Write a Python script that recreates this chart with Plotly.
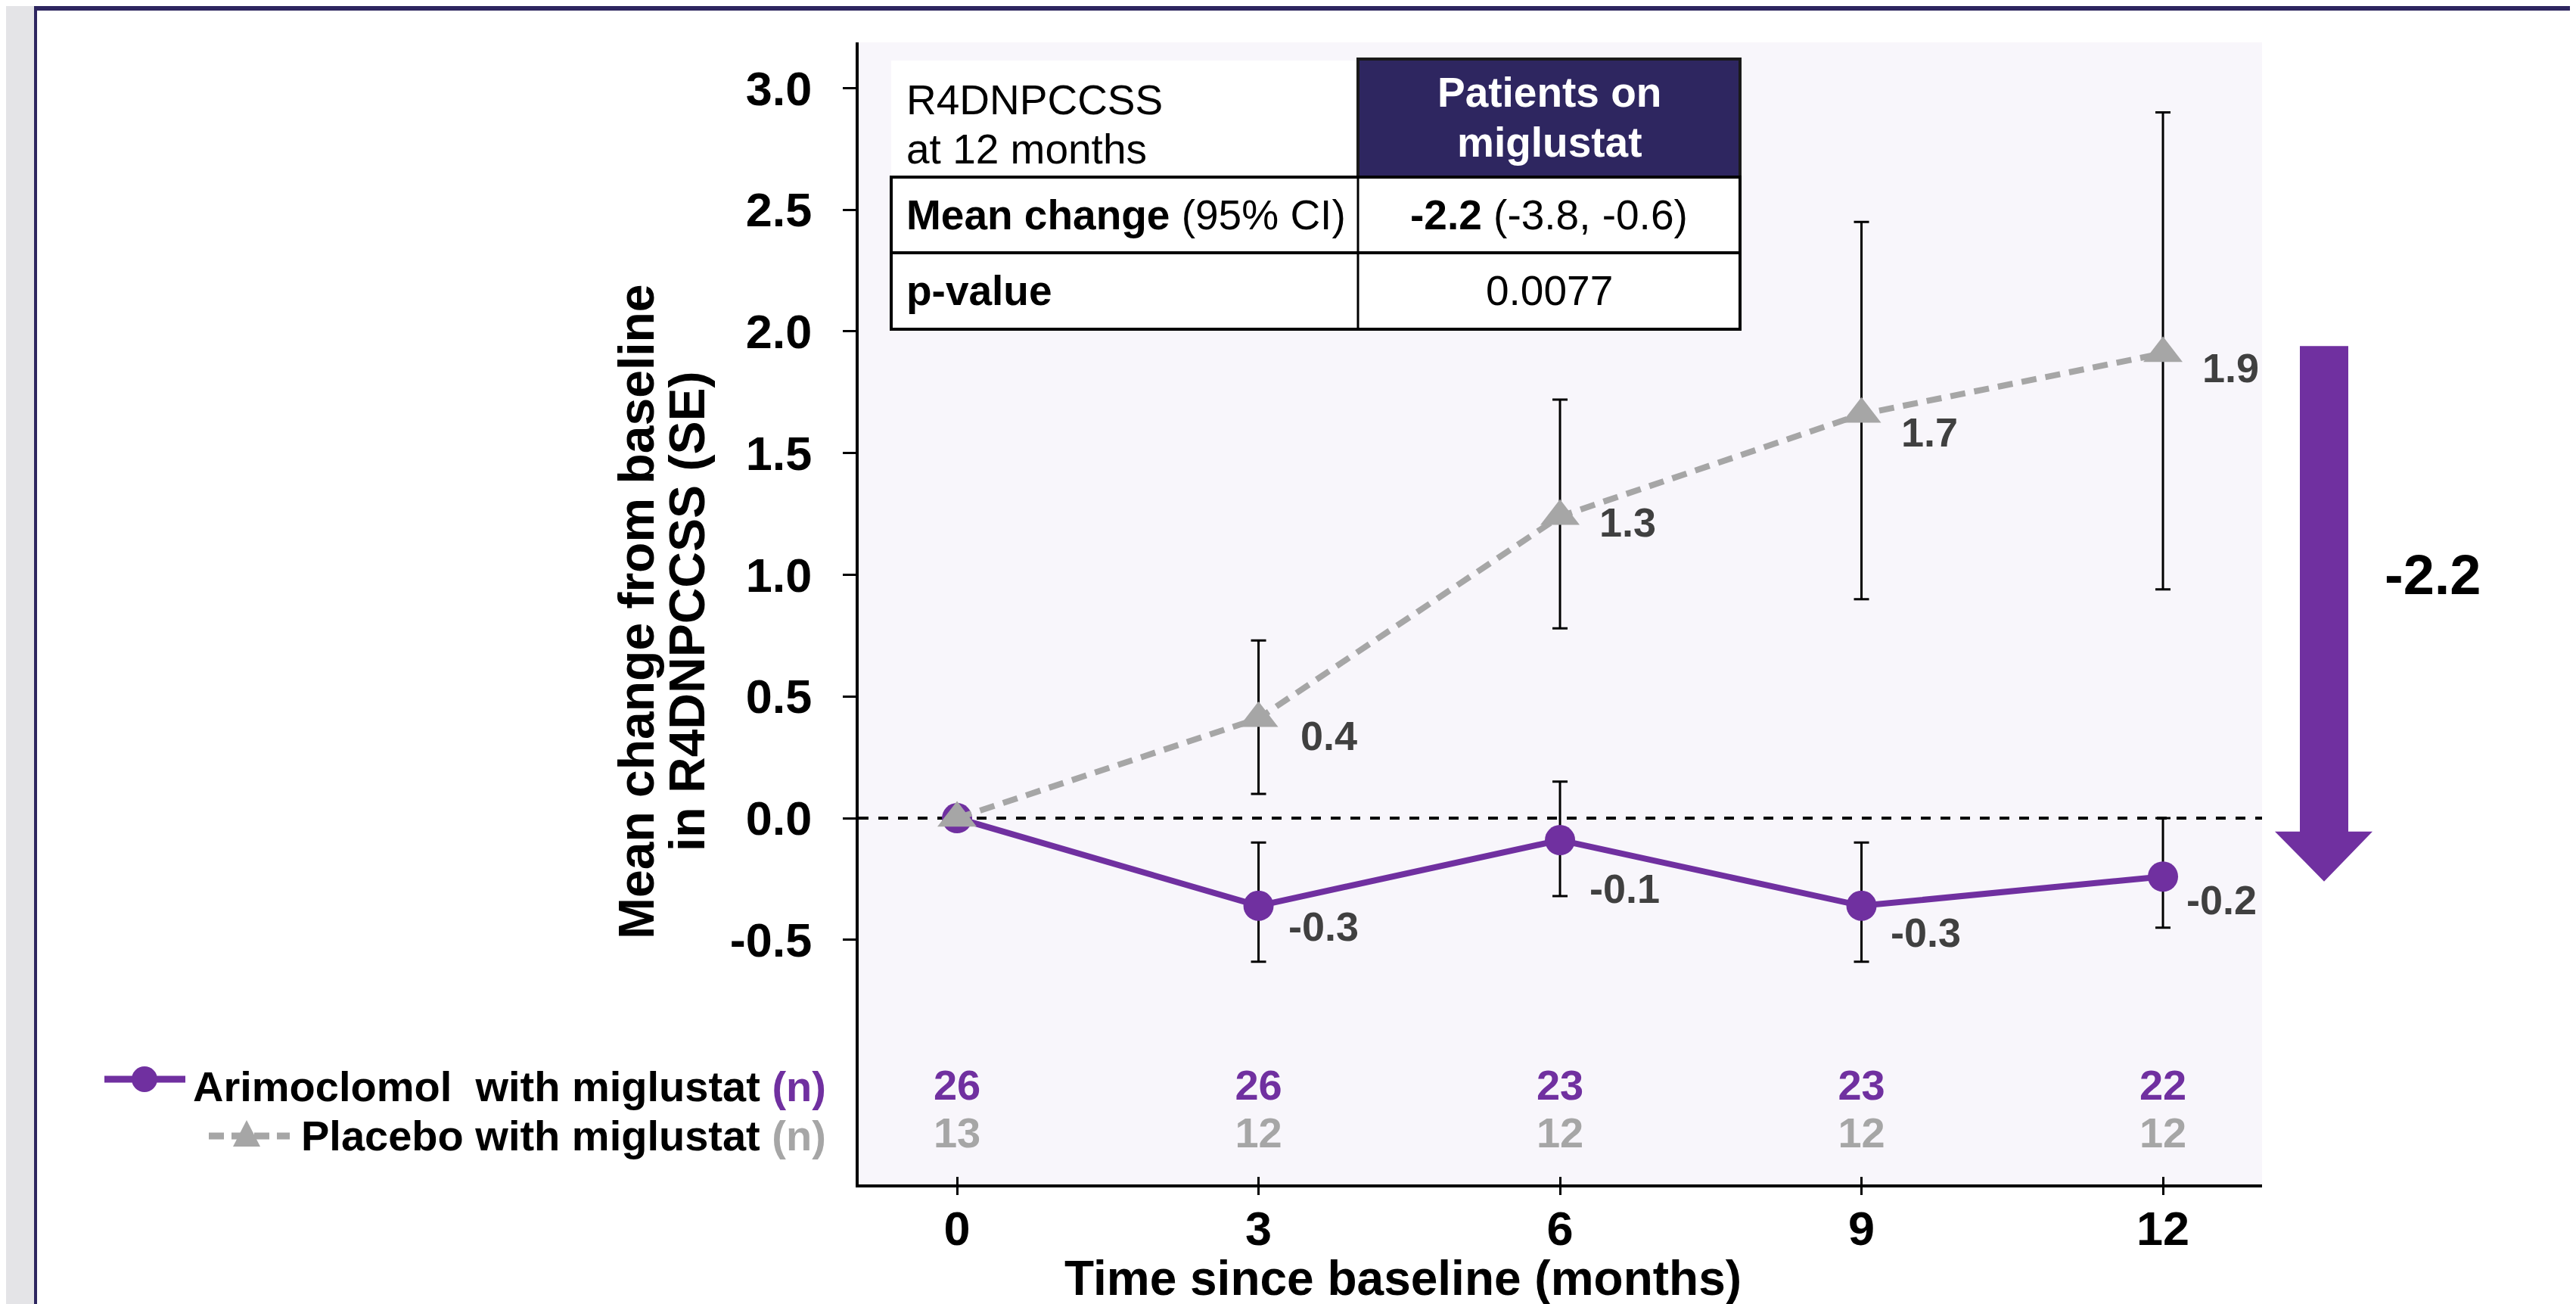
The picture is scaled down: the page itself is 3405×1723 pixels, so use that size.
import plotly.graph_objects as go

# ---------------- data ----------------
months = [0, 3, 6, 9, 12]
arimo_mean = [0.0, -0.36, -0.09, -0.36, -0.24]
arimo_upper = [None, -0.10, 0.15, -0.10, 0.00]
arimo_lower = [None, -0.59, -0.32, -0.59, -0.45]
arimo_labels = ["", "-0.3", "-0.1", "-0.3", "-0.2"]
placebo_mean = [0.0, 0.41, 1.24, 1.66, 1.91]
placebo_upper = [None, 0.73, 1.72, 2.45, 2.90]
placebo_lower = [None, 0.10, 0.78, 0.90, 0.94]
placebo_labels = ["", "0.4", "1.3", "1.7", "1.9"]
arimo_n = [26, 26, 23, 23, 22]
placebo_n = [13, 12, 12, 12, 12]
ytick_vals = [-0.5, 0.0, 0.5, 1.0, 1.5, 2.0, 2.5, 3.0]
ytick_text = ["-0.5", "0.0", "0.5", "1.0", "1.5", "2.0", "2.5", "3.0"]
xtick_text = ["0", "3", "6", "9", "12"]
arimo_name = "Arimoclomol  with miglustat"
placebo_name = "Placebo with miglustat"
table_header = ["R4DNPCCSS", "at 12 months"]
table_col_header = ["Patients on", "miglustat"]
table_rows = [["<b>Mean change</b> (95% CI)", "<b>-2.2</b> (-3.8, -0.6)"],
              ["<b>p-value</b>", "0.0077"]]
diff_label = "-2.2"

# ---------------- style ----------------
FONT = "Arial, Liberation Sans, sans-serif"
PURPLE = "#7030A0"
GREY = "#A6A6A6"
NAVY = "#2E2660"
LABEL = "#404040"
W, H = 3405, 1723
L, R, T, B = 1127, 423, 48, 166
PW, PH = W - L - R, H - T - B


def xp(px):
    return (px - L) / PW


def yp(py):
    return (H - B - py) / PH


XR = [-0.979, 12.986]
YR = [-1.505, 3.188]

# label offsets in px (style only)
arimo_dx = [0, 37, 37, 36, 29]
arimo_dy = [0, -27, -64, -35, -31]
placebo_dx = [0, 53, 50, 50, 50]
placebo_dy = [0, -23, -8, -24, -19]


def err(upper, lower, mean):
    plus = [None if u is None else u - m for u, m in zip(upper, mean)]
    minus = [None if lo is None else m - lo for lo, m in zip(lower, mean)]
    return plus, minus


fig = go.Figure()

ap, am = err(arimo_upper, arimo_lower, arimo_mean)
pp, pm = err(placebo_upper, placebo_lower, placebo_mean)

fig.add_trace(go.Scatter(
    x=months, y=arimo_mean, mode="lines+markers", name=arimo_name,
    line=dict(color=PURPLE, width=8),
    marker=dict(symbol="circle", size=40, color=PURPLE),
    error_y=dict(type="data", array=ap, arrayminus=am, color="black",
                 thickness=3, width=10, symmetric=False),
    showlegend=False, cliponaxis=False))

fig.add_trace(go.Scatter(
    x=months, y=placebo_mean, mode="lines+markers", name=placebo_name,
    line=dict(color=GREY, width=8, dash="20px,12px"),
    marker=dict(symbol="triangle-up", size=45, color=GREY),
    error_y=dict(type="data", array=pp, arrayminus=pm, color="black",
                 thickness=3, width=10, symmetric=False),
    showlegend=False, cliponaxis=False))

# n at risk rows
fig.add_trace(go.Scatter(
    x=months, y=[-1.114] * len(months), mode="text",
    text=[str(v) for v in arimo_n],
    textfont=dict(family=FONT, size=56, color=PURPLE, weight="bold"),
    showlegend=False, hoverinfo="skip"))
fig.add_trace(go.Scatter(
    x=months, y=[-1.309] * len(months), mode="text",
    text=[str(v) for v in placebo_n],
    textfont=dict(family=FONT, size=56, color=GREY, weight="bold"),
    showlegend=False, hoverinfo="skip"))

# invisible trace for the inside-tick overlay axis
fig.add_trace(go.Scatter(x=months, y=arimo_mean, xaxis="x2", mode="markers",
                         marker=dict(opacity=0), showlegend=False, hoverinfo="skip"))

annotations = []
# data labels
for x, y, t, dx, dy in zip(months, arimo_mean, arimo_labels, arimo_dx, arimo_dy):
    if t:
        annotations.append(dict(x=x, y=y, xref="x", yref="y", text="<b>%s</b>" % t,
                                showarrow=False, xanchor="left", yanchor="middle",
                                xshift=dx, yshift=dy,
                                font=dict(family=FONT, size=54, color=LABEL)))
for x, y, t, dx, dy in zip(months, placebo_mean, placebo_labels, placebo_dx, placebo_dy):
    if t:
        annotations.append(dict(x=x, y=y, xref="x", yref="y", text="<b>%s</b>" % t,
                                showarrow=False, xanchor="left", yanchor="middle",
                                xshift=dx, yshift=dy,
                                font=dict(family=FONT, size=54, color=LABEL)))

# axis titles
annotations.append(dict(x=xp(1846), y=yp(1681), xref="paper", yref="paper",
                        text="<b>Time since baseline (months)</b>", showarrow=False,
                        xanchor="center", yanchor="middle",
                        font=dict(family=FONT, size=64, color="black")))
annotations.append(dict(x=xp(833), y=yp(800), xref="paper", yref="paper",
                        text="<b>Mean change from baseline</b>", showarrow=False,
                        textangle=-90, xanchor="center", yanchor="middle",
                        font=dict(family=FONT, size=66, color="black")))
annotations.append(dict(x=xp(900), y=yp(800), xref="paper", yref="paper",
                        text="<b>in R4DNPCCSS (SE)</b>", showarrow=False,
                        textangle=-90, xanchor="center", yanchor="middle",
                        font=dict(family=FONT, size=66, color="black")))

# legend texts
annotations.append(dict(x=xp(1086), y=yp(1427), xref="paper", yref="paper",
                        text="<b>%s <span style='color:%s'>(n)</span></b>" % (arimo_name, PURPLE),
                        showarrow=False, xanchor="right", yanchor="middle",
                        font=dict(family=FONT, size=56, color="black")))
annotations.append(dict(x=xp(1086), y=yp(1492), xref="paper", yref="paper",
                        text="<b>%s <span style='color:%s'>(n)</span></b>" % (placebo_name, GREY),
                        showarrow=False, xanchor="right", yanchor="middle",
                        font=dict(family=FONT, size=56, color="black")))

# table texts
TL, TM, TRt = 1170, 1787, 2292
TY = [70, 226, 326, 427]
annotations.append(dict(x=xp(TL + 18), y=yp(124), xref="paper", yref="paper",
                        text=table_header[0], showarrow=False, xanchor="left", yanchor="middle",
                        font=dict(family=FONT, size=55, color="black")))
annotations.append(dict(x=xp(TL + 18), y=yp(189), xref="paper", yref="paper",
                        text=table_header[1], showarrow=False, xanchor="left", yanchor="middle",
                        font=dict(family=FONT, size=55, color="black")))
annotations.append(dict(x=xp((TM + TRt) / 2), y=yp(114), xref="paper", yref="paper",
                        text="<b>%s</b>" % table_col_header[0], showarrow=False,
                        xanchor="center", yanchor="middle",
                        font=dict(family=FONT, size=55, color="white")))
annotations.append(dict(x=xp((TM + TRt) / 2), y=yp(180), xref="paper", yref="paper",
                        text="<b>%s</b>" % table_col_header[1], showarrow=False,
                        xanchor="center", yanchor="middle",
                        font=dict(family=FONT, size=55, color="white")))
for i, row in enumerate(table_rows):
    cy = (TY[i + 1] + TY[i + 2]) / 2
    annotations.append(dict(x=xp(TL + 18), y=yp(cy), xref="paper", yref="paper",
                            text=row[0], showarrow=False, xanchor="left", yanchor="middle",
                            font=dict(family=FONT, size=55, color="black")))
    annotations.append(dict(x=xp((TM + TRt) / 2), y=yp(cy), xref="paper", yref="paper",
                            text=row[1], showarrow=False, xanchor="center", yanchor="middle",
                            font=dict(family=FONT, size=55, color="black")))

# difference label
annotations.append(dict(x=xp(3142), y=yp(752), xref="paper", yref="paper",
                        text="<b>%s</b>" % diff_label, showarrow=False,
                        xanchor="left", yanchor="middle",
                        font=dict(family=FONT, size=74, color="black")))

shapes = []
# page frame
shapes.append(dict(type="rect", xref="paper", yref="paper", x0=xp(0), x1=xp(W), y0=yp(0), y1=yp(6),
                   fillcolor=NAVY, line=dict(width=0), layer="above"))
shapes.append(dict(type="rect", xref="paper", yref="paper", x0=xp(0), x1=xp(37), y0=yp(0), y1=yp(H),
                   fillcolor="#E4E4E7", line=dict(width=0), layer="above"))
shapes.append(dict(type="rect", xref="paper", yref="paper", x0=xp(37), x1=xp(41), y0=yp(0), y1=yp(H),
                   fillcolor=NAVY, line=dict(width=0), layer="above"))

# zero reference line
shapes.append(dict(type="line", xref="paper", yref="y", x0=0, x1=1, y0=0, y1=0,
                   line=dict(color="black", width=4, dash="13px,13px"), layer="below"))

# table
shapes.append(dict(type="rect", xref="paper", yref="paper", x0=xp(TL), x1=xp(TM),
                   y0=yp(72), y1=yp(TY[1]), fillcolor="white", line=dict(width=0), layer="above"))
shapes.append(dict(type="rect", xref="paper", yref="paper", x0=xp(TM), x1=xp(TRt),
                   y0=yp(TY[0]), y1=yp(TY[1]), fillcolor=NAVY,
                   line=dict(color="#1a1a1a", width=4), layer="above"))
shapes.append(dict(type="rect", xref="paper", yref="paper", x0=xp(TL), x1=xp(TRt),
                   y0=yp(TY[1]), y1=yp(TY[3]), fillcolor="white",
                   line=dict(color="black", width=4), layer="above"))
shapes.append(dict(type="line", xref="paper", yref="paper", x0=xp(TL), x1=xp(TRt),
                   y0=yp(TY[2]), y1=yp(TY[2]), line=dict(color="black", width=4), layer="above"))
shapes.append(dict(type="line", xref="paper", yref="paper", x0=xp(TM), x1=xp(TM),
                   y0=yp(TY[1]), y1=yp(TY[3]), line=dict(color="black", width=3), layer="above"))

# difference arrow (from placebo to arimoclomol at 12 months)
y_top = placebo_mean[-1] + 0.03
y_tip = arimo_mean[-1] - 0.02
y_head = y_tip + 66 / (PH / (YR[1] - YR[0]))
path = ("M {a},{yt} L {b},{yt} L {b},{yh} L {c},{yh} L {m},{yk} L {d},{yh} L {a},{yh} Z"
        .format(a=xp(3032), b=xp(3096), c=xp(3128), d=xp(2999), m=xp(3064),
                yt=y_top, yh=y_head, yk=y_tip))
shapes.append(dict(type="path", xref="paper", yref="y", path=path, fillcolor=PURPLE,
                   line=dict(width=0), layer="above"))

# legend symbols
shapes.append(dict(type="line", xref="paper", yref="paper", x0=xp(130), x1=xp(237),
                   y0=yp(1418), y1=yp(1418), line=dict(color=PURPLE, width=9), layer="above"))
shapes.append(dict(type="circle", xref="paper", yref="paper", x0=xp(183 - 17), x1=xp(183 + 17),
                   y0=yp(1418 - 17), y1=yp(1418 + 17), fillcolor=PURPLE,
                   line=dict(width=0), layer="above"))
shapes.append(dict(type="line", xref="paper", yref="paper", x0=xp(268), x1=xp(375),
                   y0=yp(1493), y1=yp(1493), line=dict(color=GREY, width=9, dash="20px,10px"),
                   layer="above"))
tri = "M {a},{y1} L {b},{y2} L {c},{y2} Z".format(
    a=xp(318), b=xp(300), c=xp(336), y1=yp(1472), y2=yp(1507))
shapes.append(dict(type="path", xref="paper", yref="paper", path=tri, fillcolor=GREY,
                   line=dict(width=0), layer="above"))

fig.update_layout(
    width=W, height=H, autosize=False,
    margin=dict(l=L, r=R, t=T, b=B, pad=0, autoexpand=False),
    paper_bgcolor="white", plot_bgcolor="#F8F6FB",
    font=dict(family=FONT, color="black"),
    showlegend=False,
    xaxis=dict(range=XR, tickvals=months, ticktext=xtick_text, ticks="outside",
               ticklen=10, tickwidth=3, tickcolor="black", showline=True,
               linewidth=4, linecolor="black", showgrid=False, zeroline=False,
               tickfont=dict(family=FONT, size=63, color="black", weight="bold"),
               ticklabelstandoff=-10),
    xaxis2=dict(range=XR, overlaying="x", anchor="y", side="bottom", tickvals=months,
                ticks="inside", ticklen=10, tickwidth=3, tickcolor="black",
                showticklabels=False, showline=False, showgrid=False, zeroline=False),
    yaxis=dict(range=YR, tickvals=ytick_vals, ticktext=ytick_text, ticks="outside",
               ticklen=17, tickwidth=3, tickcolor="black", showline=True,
               linewidth=4, linecolor="black", showgrid=False, zeroline=False,
               tickfont=dict(family=FONT, size=63, color="black", weight="bold"),
               ticklabelstandoff=28),
    shapes=shapes, annotations=annotations,
)

fig.write_html("out.html")
